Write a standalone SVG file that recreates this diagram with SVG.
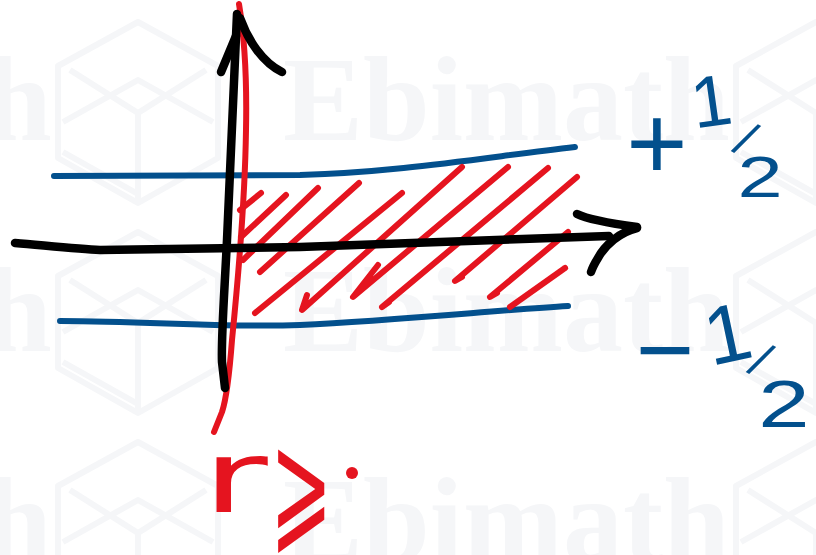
<svg xmlns="http://www.w3.org/2000/svg" width="816" height="555" viewBox="0 0 816 555">
<defs>
<style>
.wm{font-family:"Liberation Serif","Times New Roman",serif;font-weight:bold;font-size:120px;fill:#f5f6f8}
.logo{fill:none;stroke:#f5f6f8;stroke-width:6;stroke-linejoin:round}
.s{fill:none;stroke-linecap:round;stroke-linejoin:round}
.blk{stroke:#000;stroke-width:8.5}
.red{stroke:#e5141f;stroke-width:6}
.blu{stroke:#03508d;stroke-width:6}
.bt{font-family:"Liberation Sans",Arial,sans-serif;fill:#03508d}
.rt{font-family:"DejaVu Sans","Liberation Sans",sans-serif;fill:#e5141f}
</style>
<g id="logo">
<path class="logo" d="M0,-90 L80,-46 L80,46 L0,91 L-80,46 L-80,-46 Z M-68,-42 L0,1 L68,-42 M-75,10 L0,-32 L75,10 M-75,40 L0,82 M0,48 L0,91 M0,1 L0,48"/>
</g>
</defs>
<rect width="816" height="555" fill="#fff"/>
<g id="watermark">
<use href="#logo" x="138" y="112"/><use href="#logo" x="816" y="112"/>
<use href="#logo" x="138" y="322"/><use href="#logo" x="816" y="322"/>
<use href="#logo" x="138" y="532"/><use href="#logo" x="816" y="532"/>
<text class="wm" x="-395" y="140">Ebimath</text><text class="wm" x="283" y="140">Ebimath</text>
<text class="wm" x="-395" y="351">Ebimath</text><text class="wm" x="283" y="351">Ebimath</text>
<text class="wm" x="-395" y="561">Ebimath</text><text class="wm" x="283" y="561">Ebimath</text>
</g>
<g id="strip-bounds">
<path class="s blu" d="M54,176 L300,175 C400,172 480,158 575,147"/>
<path class="s blu" d="M60,321 C150,321 220,328 300,325 C400,320 500,310 568,306"/>
</g>
<g id="hatching">
<path class="s red" d="M240,210 L261,193"/>
<path class="s red" d="M241,237 L286,195"/>
<path class="s red" d="M243,260 L318,188"/>
<path class="s red" d="M260,272 L359,183"/>
<path class="s red" d="M255,313 L402,193"/>
<path class="s red" d="M307,295 L302,310 L462,167"/>
<path class="s red" d="M378,265 L353,297 L508,167"/>
<path class="s red" d="M548,168 L382,307 L389,302"/>
<path class="s red" d="M577,177 L455,281 L462,277"/>
<path class="s red" d="M568,232 L490,297 L497,293"/>
<path class="s red" d="M565,268 L510,307"/>
</g>
<g id="red-line">
<path class="s red" d="M239,4 C245,40 247,80 246,130 C245,200 238,280 232,340 C229,380 226,400 222,412 L214,432"/>
</g>
<g id="axes">
<path class="s blk" d="M237,14 C234,80 230,160 227,240 C224,300 221,340 222,362 L225,388"/>
<path class="s blk" d="M221,72 C226,60 231,48 236,36"/>
<path class="s blk" d="M240,18 C248,40 262,62 282,72"/>
<path class="s blk" d="M15,243 C50,246 80,249 100,250 L300,247 L609,236"/>
<path class="s blk" d="M577,214 C585,218 600,222 637,227"/>
<path class="s blk" d="M637,228 C620,232 605,245 598,258 C593,266 591,272 591,272"/>
</g>
<g id="label-plus-half">
<text class="bt" x="657" y="179" font-size="105" text-anchor="middle">+</text>
<text class="bt" x="711" y="126" font-size="72" text-anchor="middle" transform="rotate(-8 711 100)">1</text>
<text class="bt" x="0" y="0" font-size="50" text-anchor="middle" transform="translate(737,154) rotate(30)">/</text>
<text class="bt" x="0" y="0" font-size="58" text-anchor="middle" transform="translate(760,197) scale(1.4,1)">2</text>
</g>
<g id="label-minus-half">
<text class="bt" x="665" y="384" font-size="100" text-anchor="middle">−</text>
<text class="bt" x="727" y="362" font-size="82" text-anchor="middle" transform="rotate(-12 727 332)">1</text>
<text class="bt" x="0" y="0" font-size="50" text-anchor="middle" transform="translate(752,375) rotate(30)">/</text>
<text class="bt" x="0" y="0" font-size="66" text-anchor="middle" transform="translate(784,427) scale(1.4,1)">2</text>
</g>
<g id="label-r">
<text class="rt" x="0" y="0" font-size="100" text-anchor="middle" transform="translate(235,512) scale(1.6,1)">r</text>
<text class="rt" x="0" y="0" font-size="92" text-anchor="middle" transform="translate(301,535) scale(0.8,1.6)">⩾</text>
<circle cx="352" cy="473" r="6" fill="#e5141f"/>
</g>
</svg>
